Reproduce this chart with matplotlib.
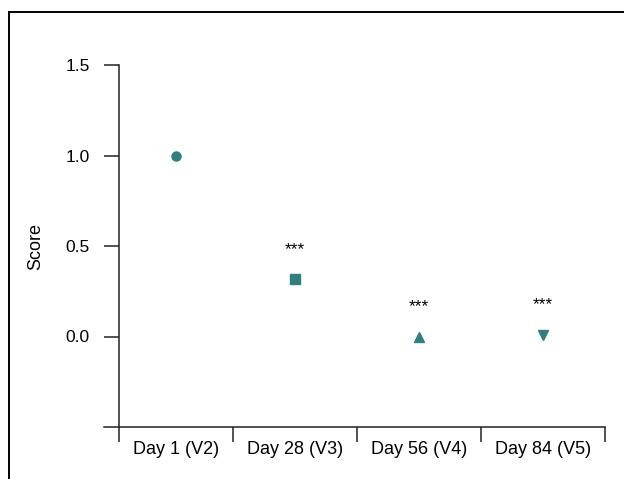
import numpy as np
import matplotlib.pyplot as plt
from matplotlib.patches import Rectangle

plt.rcParams['font.family'] = ['Liberation Sans', 'DejaVu Sans']

# Data
visits = ["Day 1 (V2)", "Day 28 (V3)", "Day 56 (V4)", "Day 84 (V5)"]
scores = [1.0, 0.315, 0.0, 0.01]
markers = ["o", "s", "^", "v"]
signif = ["", "***", "***", "***"]

color = "#2e7f80"

fig = plt.figure(figsize=(6.24, 4.79), dpi=100)
ax = fig.add_axes([104 / 624, 1 - 427 / 479, 501 / 624, 362 / 479])

# category boundaries (first column is a bit narrower)
bounds = np.array([-0.419, 0.5, 1.5, 2.5, 3.5])
centers = (bounds[:-1] + bounds[1:]) / 2

for xc, s, m, lab in zip(centers, scores, markers, signif):
    ax.plot(xc, s, marker=m, color=color, markersize=7 if m == "s" else 6.5,
            linestyle="none")
    if lab:
        ax.text(xc, s + 0.165, lab, ha="center", va="center", fontsize=12.5)

ax.set_xlim(-0.54, 3.5)
ax.set_ylim(-0.5, 1.5)

for side in ["top", "right"]:
    ax.spines[side].set_visible(False)
ax.spines["left"].set_position(("data", bounds[0]))
ax.spines["left"].set_bounds(-0.5, 1.5)
for side in ["left", "bottom"]:
    ax.spines[side].set_linewidth(1.1)
    ax.spines[side].set_color("#222222")

ax.set_yticks([0, 0.5, 1.0, 1.5])
ax.set_yticklabels(["0.0", "0.5", "1.0", "1.5"])
ax.tick_params(axis="y", length=11, width=1.1, color="#222222", pad=10,
               labelsize=12.5)

ax.set_xticks(bounds)
ax.set_xticklabels([])
ax.set_xticks(centers, minor=True)
ax.set_xticklabels(visits, minor=True)
ax.tick_params(axis="x", which="major", length=11, width=1.1, color="#222222")
ax.tick_params(axis="x", which="minor", length=0, pad=10, labelsize=13)

ax.set_ylabel("Score", fontsize=13)
ax.yaxis.set_label_coords(-0.12, 0.5)

# frame around the figure
fig.patches.append(Rectangle((9 / 624, -0.1), 1.2, 1.1 - 12.5 / 479,
                             transform=fig.transFigure, fill=False,
                             edgecolor="black", linewidth=1.4))

fig.savefig("out.png", dpi=100)
